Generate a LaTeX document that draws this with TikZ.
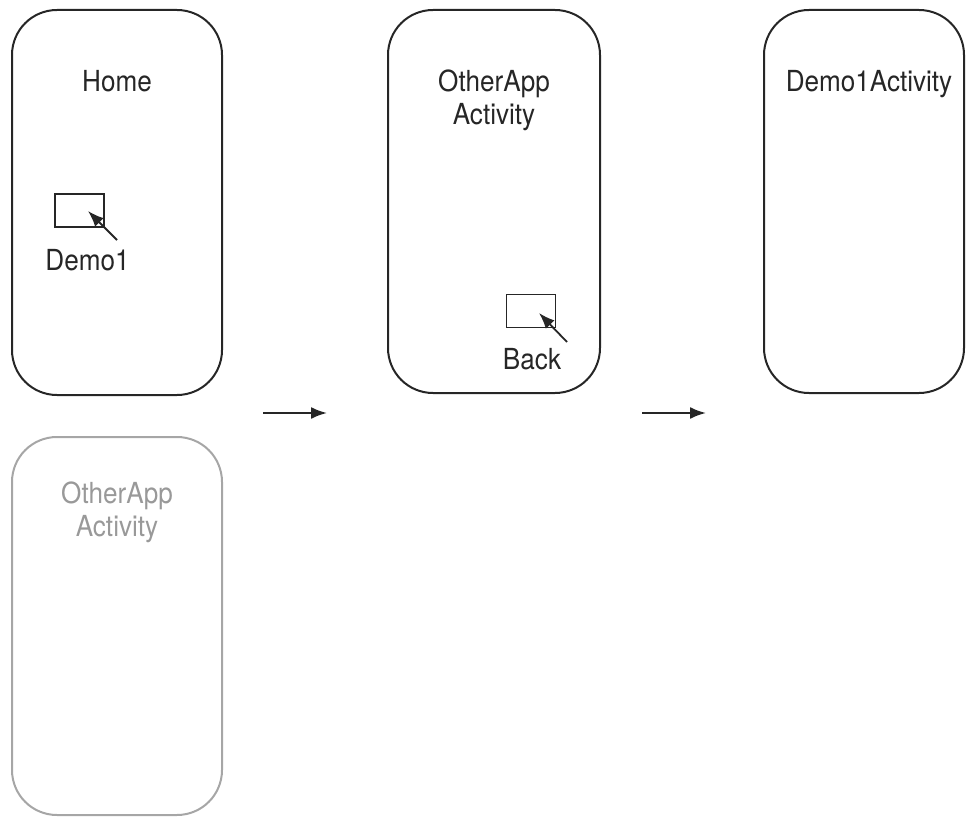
\documentclass[tikz,border=0pt]{standalone}
\usepackage{fontspec}
\setmainfont{TeX Gyre Heros}[FakeStretch=0.9]
\usepackage{tikz}
\usetikzlibrary{positioning, arrows.meta, calc}
\usepackage{xcolor}

\begin{document}
\begin{tikzpicture}[
    x=1pt, y=-1pt,
    screen/.style={draw=black!85, line width=2pt, rounded corners=45pt, inner sep=0pt},
    oldscreen/.style={screen, draw=black!35},
    title/.style={font=\fontsize{29}{33}\selectfont, align=center, inner sep=0pt, text=black!85},
    oldtitle/.style={title, text=black!40},
    button/.style={draw=black!85, line width=1.8pt, minimum width=49pt, minimum height=33pt, inner sep=0pt},
    pointer/.style={draw=black!85, line width=1.8pt, -{Latex[length=16pt, width=12pt]}},
    line/.style={draw=black!85, line width=2pt, -{Latex[length=16pt, width=12pt]}}
]
\useasboundingbox (0,0) rectangle (966,818);

% Nodes
\node[screen, minimum width=210pt, minimum height=385pt] (home) at (117,202.5) {};
\node[screen, minimum width=212pt, minimum height=383pt] (other) at (494,201.5) {};
\node[screen, minimum width=200pt, minimum height=383pt] (demo) at (864,201.5) {};
\node[oldscreen, minimum width=210pt, minimum height=378pt] (oldother) at (117,626) {};

\node[title, below=61pt of home.north] (hometext) {Home};
\node[title, below=61pt of other.north] (othertext) {OtherApp\\Activity};
\node[title, below=61pt of demo.north, xshift=5pt] (demotext) {Demo1Activity};
\node[oldtitle, below=46pt of oldother.north] (oldothertext) {OtherApp\\Activity};

\node[button] (demobtn) at (79.5,210.5) {};
\node[title, below=21pt of demobtn, xshift=8pt] (demolabel) {Demo1};
\node[button] (backbtn) at (531,311) {};
\node[title, below=20pt of backbtn, xshift=1pt] (backlabel) {Back};

\coordinate (demotail) at (117,240);
\coordinate (demotip) at (88,211);
\coordinate (backtail) at (567,342);
\coordinate (backtip) at (539,313);

\coordinate (goa) at (263,413);
\coordinate (gob) at (327,413);
\coordinate (goc) at (642,413);
\coordinate (god) at (706,413);

% Edges
\draw[pointer] (demotail) -- (demotip);
\draw[pointer] (backtail) -- (backtip);
\draw[line] (goa) -- (gob);
\draw[line] (goc) -- (god);

\end{tikzpicture}
\end{document}
